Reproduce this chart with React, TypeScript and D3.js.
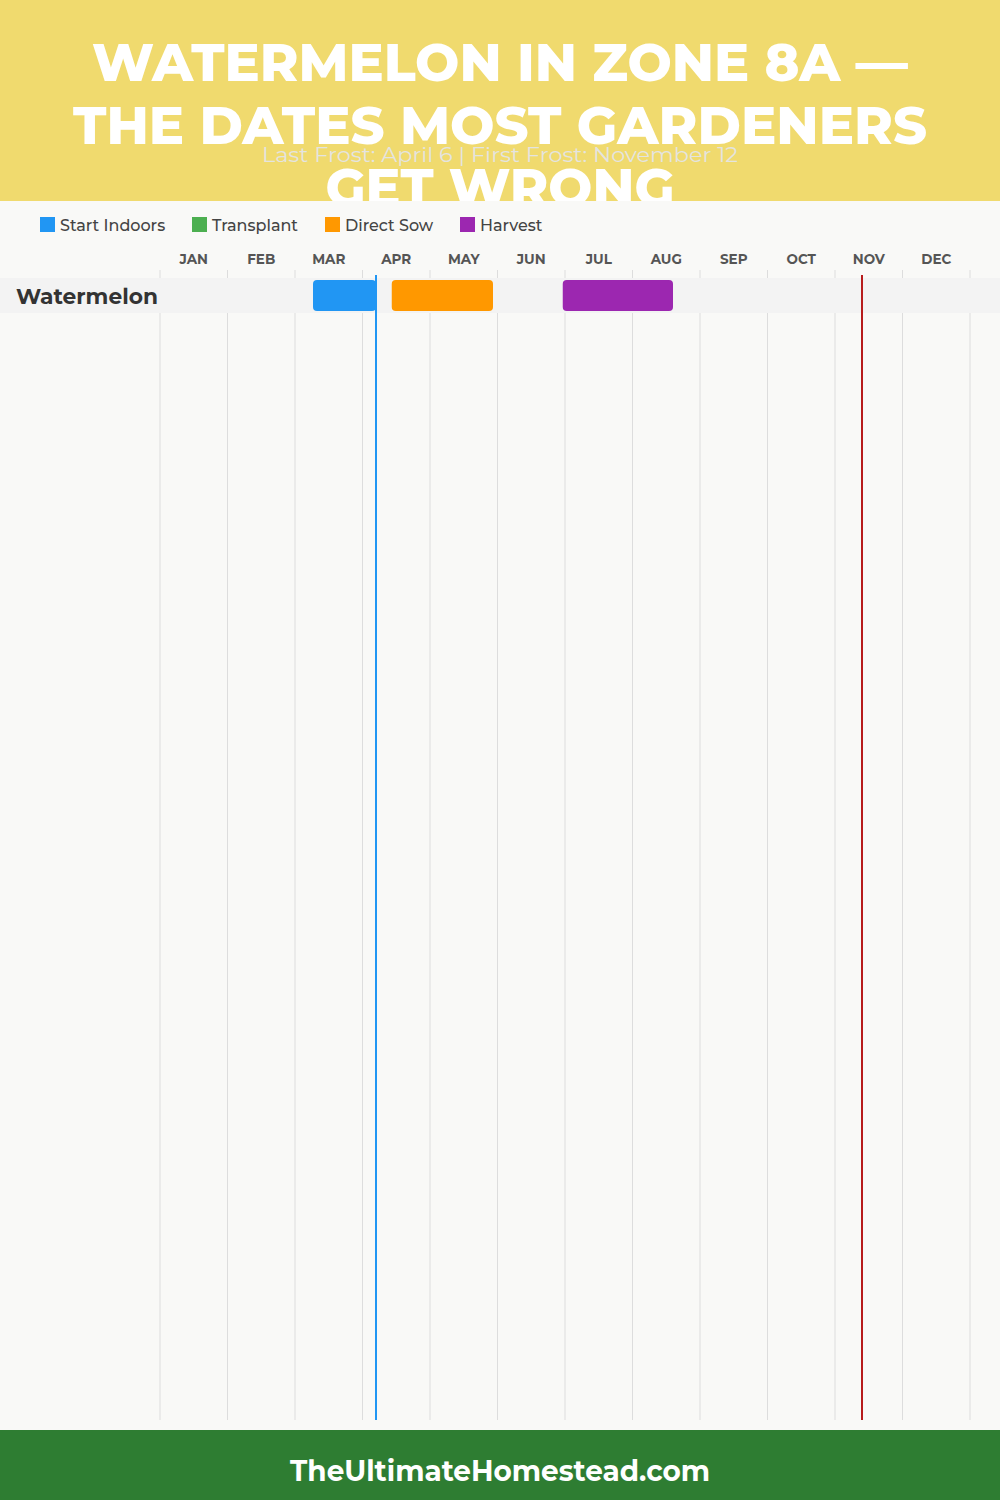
import React from "react";
import * as d3 from "d3";

const TITLE_LINES = ["WATERMELON IN ZONE 8A —", "THE DATES MOST GARDENERS", "GET WRONG"];
const SUBTITLE = "Last Frost: April 6 | First Frost: November 12";
const FOOTER = "TheUltimateHomestead.com";
const MONTHS = ["JAN", "FEB", "MAR", "APR", "MAY", "JUN", "JUL", "AUG", "SEP", "OCT", "NOV", "DEC"];
const LEGEND = [
  { key: "indoors", label: "Start Indoors", color: "#2196F3" },
  { key: "transplant", label: "Transplant", color: "#4CAF50" },
  { key: "sow", label: "Direct Sow", color: "#FF9800" },
  { key: "harvest", label: "Harvest", color: "#9C27B0" },
];
const CROPS = ["Watermelon"];
// [crop, phase, start [month, day], end [month, day]]
const TASKS: [string, string, [number, number], [number, number]][] = [
  ["Watermelon", "indoors", [3, 8], [4, 6]],
  ["Watermelon", "sow", [4, 13], [5, 28]],
  ["Watermelon", "harvest", [6, 29], [8, 18]],
];
const LAST_FROST: [number, number] = [4, 6];
const FIRST_FROST: [number, number] = [11, 12];

const toM = (md: [number, number]) => md[0] - 1 + md[1] / 30;
const FONT = "Montserrat, 'Open Sans', Lato, sans-serif";

export default function App() {
  const W = 1000, H = 1500;
  const x = d3.scaleLinear().domain([0, 12]).range([160, 970]);
  const y = d3.scaleBand<string>().domain(CROPS).range([278, 313]);
  const colorOf = (k: string) => LEGEND.find((l) => l.key === k)!.color;
  const legendX = [40, 192, 325, 460];
  const titleW = [816, 854, 349];
  return (
    <svg width={W} height={H} style={{ position: "absolute", left: 0, top: 0, display: "block" }} fontFamily={FONT}>
      <rect x={0} y={0} width={W} height={H} fill="#f9f9f7" />
      <rect x={0} y={0} width={W} height={201} fill="#F0DA6E" />
      {TITLE_LINES.map((t, i) => (
        <text key={t} x={W / 2} y={81 + i * 62.5} textAnchor="middle" fill="#fff" fontSize={52} fontWeight={800}
          textLength={titleW[i]} lengthAdjust="spacingAndGlyphs">{t}</text>
      ))}
      <text x={W / 2} y={162} textAnchor="middle" fill="#e4e4e0" fontSize={21} textLength={476} lengthAdjust="spacingAndGlyphs">{SUBTITLE}</text>
      {/* overlay hides title overflow below the header */}
      <rect x={0} y={201} width={W} height={10} fill="#f9f9f7" />
      {LEGEND.map((l, i) => (
        <g key={l.key} transform={`translate(${legendX[i]},217)`}>
          <rect width={15} height={15} fill={l.color} />
          <text x={20} y={13.5} fontSize={16} fontWeight={500} fill="#444">{l.label}</text>
        </g>
      ))}
      {d3.range(13).map((i) => (
        <line key={i} x1={x(i)} x2={x(i)} y1={270} y2={1420} stroke="#dddddd" strokeWidth={1} />
      ))}
      {MONTHS.map((m, i) => (
        <text key={m} x={x(i + 0.5)} y={264} textAnchor="middle" fontSize={13.5} fontWeight={700} fill="#555">{m}</text>
      ))}
      {CROPS.map((c) => (
        <g key={c}>
          <rect x={0} y={y(c)!} width={W} height={y.bandwidth()} fill="#f3f3f3" />
          <text x={16} y={y(c)! + y.bandwidth() / 2 + 8.5} fontSize={21} fontWeight={700} fill="#333"
            textLength={142} lengthAdjust="spacingAndGlyphs">{c}</text>
        </g>
      ))}
      {TASKS.map(([c, k, s, e], i) => (
        <rect key={i} x={x(toM(s))} y={y(c)! + 2} width={x(toM(e)) - x(toM(s))} height={y.bandwidth() - 4}
          rx={4} fill={colorOf(k)} />
      ))}
      <line x1={x(toM(LAST_FROST))} x2={x(toM(LAST_FROST))} y1={275} y2={1420} stroke="#2196F3" strokeWidth={2} />
      <line x1={x(toM(FIRST_FROST))} x2={x(toM(FIRST_FROST))} y1={275} y2={1420} stroke="#B71C1C" strokeWidth={2} />
      <rect x={0} y={1430} width={W} height={70} fill="#2E7D32" />
      <text x={W / 2} y={1481} textAnchor="middle" fill="#fff" fontSize={29} fontWeight={700}
        textLength={420} lengthAdjust="spacingAndGlyphs">{FOOTER}</text>
    </svg>
  );
}
